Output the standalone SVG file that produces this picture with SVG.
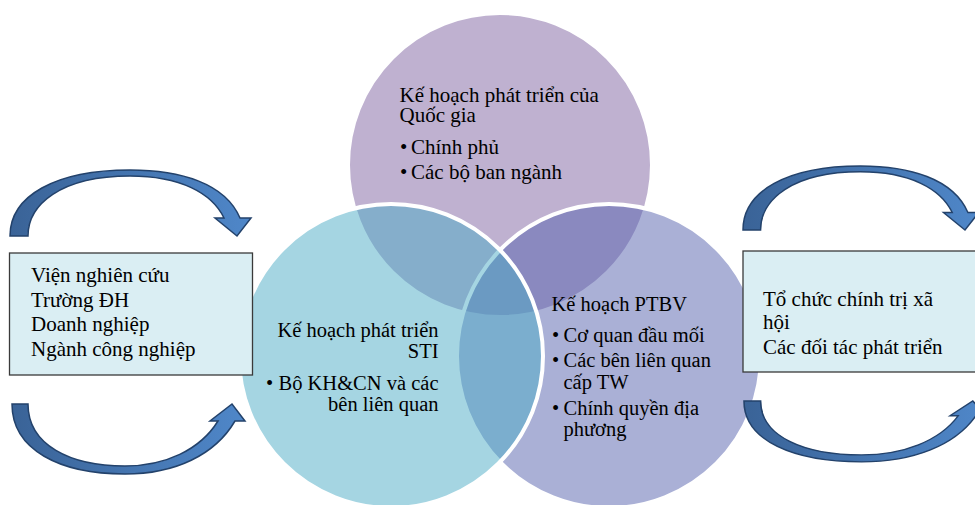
<svg xmlns="http://www.w3.org/2000/svg" width="975" height="505" viewBox="0 0 975 505">
<style>
text{font-family:'Liberation Serif','Times New Roman',serif;font-size:21px;fill:#000}
.s{font-size:20.5px}
.r{text-anchor:end}
.venn{stroke:#fff;stroke-width:4;fill-opacity:0.5}
.box{fill:#DAEEF3;stroke:#3a3a3a;stroke-width:1.3}
.arrow{fill:url(#ag);stroke:#23426B;stroke-width:1.5;stroke-linejoin:miter;vector-effect:non-scaling-stroke}
</style>
<defs>
<linearGradient id="ag" x1="0" y1="0" x2="1" y2="0">
<stop offset="0" stop-color="#3A6397"/>
<stop offset="1" stop-color="#4F87C9"/>
</linearGradient>
<path id="arrTop" d="M10,236 C10,196 55,170 130,170 C180,170 225,183 240,218 L251,218 L237,236 L215,218 L224,218 C212,193 180,176 130,176 C60,176 28,205 28,236 Z"/>
<path id="arrBot" d="M12,404 L28,404 C28,445 70,466 125,466 C165,466 200,450 218,421 L210,421 L232,404 L245,421 L235,421 C215,455 175,474 125,474 C60,474 12,450 12,404 Z"/>
</defs>
<rect width="975" height="505" fill="#fff"/>
<g id="node-national">
<circle class="venn" cx="500" cy="165" r="152" fill="#8064A2"/>
</g>
<g id="node-ptbv">
<circle class="venn" cx="609" cy="356" r="152" fill="#5561AD"/>
</g>
<g id="node-sti">
<circle class="venn" cx="391" cy="356" r="152" fill="#4BACC6"/>
</g>
<g id="labels-national">
<text x="399.5" y="102">Kế hoạch phát triển của</text>
<text x="399.5" y="122">Quốc gia</text>
<text x="400" y="154">•<tspan x="411">Chính phủ</tspan></text>
<text x="400" y="179">•<tspan x="411">Các bộ ban ngành</tspan></text>
</g>
<g id="labels-sti">
<text class="s r" x="438.5" y="337">Kế hoạch phát triển</text>
<text class="s r" x="438.5" y="358">STI</text>
<text class="s" x="266" y="390">•</text>
<text class="s r" x="438.5" y="390">Bộ KH&amp;CN và các</text>
<text class="s r" x="438.5" y="411">bên liên quan</text>
</g>
<g id="labels-ptbv">
<text class="s" x="551.5" y="311">Kế hoạch PTBV</text>
<text class="s" x="552" y="342">•<tspan x="563.5">Cơ quan đầu mối</tspan></text>
<text class="s" x="552" y="367">•<tspan x="563.5">Các bên liên quan</tspan></text>
<text class="s" x="563.5" y="389">cấp TW</text>
<text class="s" x="552" y="415">•<tspan x="563.5">Chính quyền địa</tspan></text>
<text class="s" x="563.5" y="436">phương</text>
</g>
<g id="node-left-box">
<rect class="box" x="9.5" y="253" width="243" height="122"/>
<text x="31" y="282">Viện nghiên cứu</text>
<text x="31" y="306.5">Trường ĐH</text>
<text x="31" y="331">Doanh nghiệp</text>
<text x="31" y="355.5">Ngành công nghiệp</text>
</g>
<g id="node-right-box">
<rect class="box" x="743" y="251" width="240" height="121"/>
<text x="763" y="305.5">Tổ chức chính trị xã</text>
<text x="763" y="329">hội</text>
<text x="763" y="354">Các đối tác phát triển</text>
</g>
<g id="connectors">
<use href="#arrTop" class="arrow"/>
<use href="#arrBot" class="arrow"/>
<use href="#arrTop" class="arrow" transform="matrix(0.978 0 0 0.97 733.2 1.1)"/>
<use href="#arrBot" class="arrow" transform="matrix(1.04 0 0 0.87 731.5 49.5)"/>
</g>
</svg>
